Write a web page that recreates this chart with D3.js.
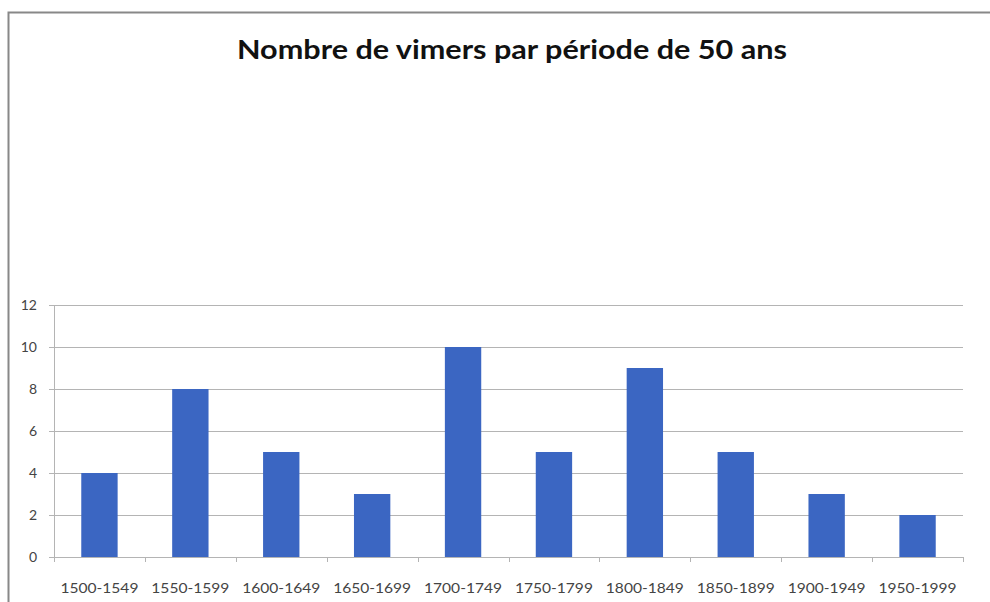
<!DOCTYPE html>
<html>
<head>
<meta charset="utf-8">
<script src="https://cdn.jsdelivr.net/npm/d3@7"></script>
<style>
    body { margin: 0; background: #fff; }
    text { font-family: Lato, "Open Sans", sans-serif; }
</style>
</head>
<body>
<div id="chart"></div>
<script>
// data
const periods = ["1500-1549", "1550-1599", "1600-1649", "1650-1699", "1700-1749",
                 "1750-1799", "1800-1849", "1850-1899", "1900-1949", "1950-1999"];
const counts = [4, 8, 5, 3, 10, 5, 9, 5, 3, 2];
const yTicks = [0, 2, 4, 6, 8, 10, 12];
const title = "Nombre de vimers par période de 50 ans";

const W = 990, H = 602;
let svg = d3.select("#chart").append("svg")
                             .attr("width", W)
                             .attr("height", H);

// outer frame (only top and left edges are in the photo)
svg.append("path")
    .attr("d", `M8.5,${H} V12.5 H${W}`)
    .attr("fill", "none")
    .attr("stroke", "#888")
    .attr("stroke-width", 2);

svg.append("text")
    .attr("x", 512)
    .attr("y", 59)
    .attr("text-anchor", "middle")
    .attr("font-size", 27)
    .attr("font-weight", "bold")
    .attr("fill", "#111")
    .attr("textLength", 550)
    .attr("lengthAdjust", "spacingAndGlyphs")
    .text(title);

let plotLeft = 54, plotRight = 963, plotTop = 305, plotBottom = 557;

let xScale = d3.scaleBand().domain(periods)
                           .range([plotLeft, plotRight])
                           .paddingInner(0.6)
                           .paddingOuter(0.3);
let yScale = d3.scaleLinear().domain([0, 12]).range([plotBottom, plotTop]);

// gridlines
svg.append("g").selectAll("line").data(yTicks).join("line")
    .attr("x1", plotLeft - 5)
    .attr("x2", plotRight)
    .attr("y1", d => Math.round(yScale(d)) + 0.5)
    .attr("y2", d => Math.round(yScale(d)) + 0.5)
    .attr("stroke", "#b4b4b4")
    .attr("stroke-width", 1);

// y axis line
svg.append("line")
    .attr("x1", plotLeft + 0.5).attr("x2", plotLeft + 0.5)
    .attr("y1", plotTop).attr("y2", plotBottom)
    .attr("stroke", "#b4b4b4");

// y labels
svg.append("g").selectAll("text").data(yTicks).join("text")
    .attr("x", 37)
    .attr("y", d => yScale(d) + 5)
    .attr("text-anchor", "end")
    .attr("font-size", 14)
    .attr("fill", "#444")
    .text(d => d);

// x tick marks on category boundaries
let step = xScale.step();
let bounds = d3.range(periods.length + 1).map(i => plotLeft + i * step);
svg.append("g").selectAll("line").data(bounds).join("line")
    .attr("x1", d => Math.round(d) + 0.5)
    .attr("x2", d => Math.round(d) + 0.5)
    .attr("y1", plotBottom)
    .attr("y2", plotBottom + 5)
    .attr("stroke", "#b4b4b4");

// bars
svg.append("g").selectAll("rect").data(counts).join("rect")
    .attr("x", (d, i) => xScale(periods[i]))
    .attr("y", d => yScale(d))
    .attr("width", xScale.bandwidth())
    .attr("height", d => plotBottom - yScale(d))
    .attr("fill", "#3b66c2");

// x labels
svg.append("g").selectAll("text").data(periods).join("text")
    .attr("x", d => xScale(d) + xScale.bandwidth() / 2)
    .attr("y", 593)
    .attr("text-anchor", "middle")
    .attr("font-size", 14)
    .attr("fill", "#444")
    .attr("textLength", 78)
    .attr("lengthAdjust", "spacingAndGlyphs")
    .text(d => d);
</script>
</body>
</html>
